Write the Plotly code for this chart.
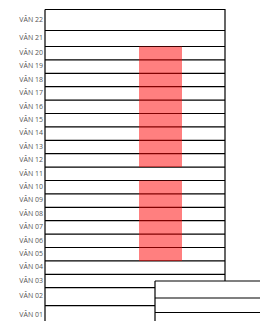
import plotly.graph_objects as go

# ---- data ----
rack_labels = ["VÂN 22", "VÂN 21", "VÂN 20", "VÂN 19", "VÂN 18", "VÂN 17", "VÂN 16",
               "VÂN 15", "VÂN 14", "VÂN 13", "VÂN 12", "VÂN 11", "VÂN 10", "VÂN 09",
               "VÂN 08", "VÂN 07", "VÂN 06", "VÂN 05", "VÂN 04", "VÂN 03", "VÂN 02", "VÂN 01"]
row_heights = [21, 16, 13.4, 13.4, 13.4, 13.4, 13.4, 13.4, 13.4, 13.4, 13.4, 13.4,
               13.4, 13.4, 13.4, 13.4, 13.4, 13.4, 13.4, 13.4, 18, 20]
occupied_rows = ["VÂN 20", "VÂN 19", "VÂN 18", "VÂN 17", "VÂN 16", "VÂN 15", "VÂN 14",
                 "VÂN 13", "VÂN 12", "VÂN 10", "VÂN 09", "VÂN 08", "VÂN 07", "VÂN 06", "VÂN 05"]
second_row_heights = [17, 14.5, 14.5]

# ---- layout constants ----
TOP = 9.5
LEFT, RIGHT = 45, 225
OCC_X0, OCC_X1 = 139, 182
R2_LEFT, R2_RIGHT, R2_TOP = 155, 262, 281
W, H = 268, 321
PAGE_OFFSET = 8  # default body margin of the html page
LINE = dict(color="#000", width=1.2)

# row bounds
tops, bots = [], []
y = TOP
for h in row_heights:
    tops.append(y)
    y += h
    bots.append(y)
rack_bottom = y

fig = go.Figure()

# main rack background + outline
fig.add_trace(go.Scatter(
    x=[LEFT, RIGHT, RIGHT, LEFT, LEFT], y=[TOP, TOP, rack_bottom, rack_bottom, TOP],
    mode="lines", fill="toself", fillcolor="white",
    line=LINE, hoverinfo="skip", showlegend=False))

# row separators
lx, ly = [], []
for b in bots[:-1]:
    lx += [LEFT, RIGHT, None]
    ly += [b, b, None]
fig.add_trace(go.Scatter(x=lx, y=ly, mode="lines", line=LINE,
                         hoverinfo="skip", showlegend=False))

# occupied blocks (contiguous groups)
idx = sorted(rack_labels.index(r) for r in occupied_rows)
groups = []
for i in idx:
    if groups and i == groups[-1][-1] + 1:
        groups[-1].append(i)
    else:
        groups.append([i])
for g in groups:
    y0, y1 = tops[g[0]], bots[g[-1]]
    fig.add_trace(go.Scatter(
        x=[OCC_X0, OCC_X1, OCC_X1, OCC_X0, OCC_X0], y=[y0, y0, y1, y1, y0],
        mode="lines", fill="toself", fillcolor="rgba(255,0,0,0.5)",
        line=dict(width=0), hoverinfo="skip", showlegend=False))

# second rack (overlapping, bottom right)
r2_bottom = R2_TOP + sum(second_row_heights) + 20
fig.add_trace(go.Scatter(
    x=[R2_LEFT, R2_RIGHT, R2_RIGHT, R2_LEFT, R2_LEFT],
    y=[R2_TOP, R2_TOP, r2_bottom, r2_bottom, R2_TOP],
    mode="lines", fill="toself", fillcolor="white",
    line=dict(width=0), hoverinfo="skip", showlegend=False))
sx, sy = [R2_LEFT, R2_LEFT, None], [r2_bottom, R2_TOP, None]
yy = R2_TOP
for h in second_row_heights:
    sx += [R2_LEFT, R2_RIGHT, None]
    sy += [yy, yy, None]
    yy += h
fig.add_trace(go.Scatter(x=sx, y=sy, mode="lines", line=LINE,
                         hoverinfo="skip", showlegend=False))

# labels
fig.add_trace(go.Scatter(
    x=[LEFT - 2] * len(rack_labels), y=[(t + b) / 2 for t, b in zip(tops, bots)],
    mode="text", text=rack_labels, textposition="middle left",
    textfont=dict(family="Open Sans", size=7, color="#555"),
    hoverinfo="skip", showlegend=False, cliponaxis=False))

fig.update_layout(
    width=W, height=H, margin=dict(l=0, r=0, t=0, b=0),
    paper_bgcolor="white", plot_bgcolor="white",
    xaxis=dict(range=[PAGE_OFFSET, W + PAGE_OFFSET], visible=False, fixedrange=True),
    yaxis=dict(range=[H + PAGE_OFFSET, PAGE_OFFSET], visible=False, fixedrange=True),
)
fig.write_html("out.html")
